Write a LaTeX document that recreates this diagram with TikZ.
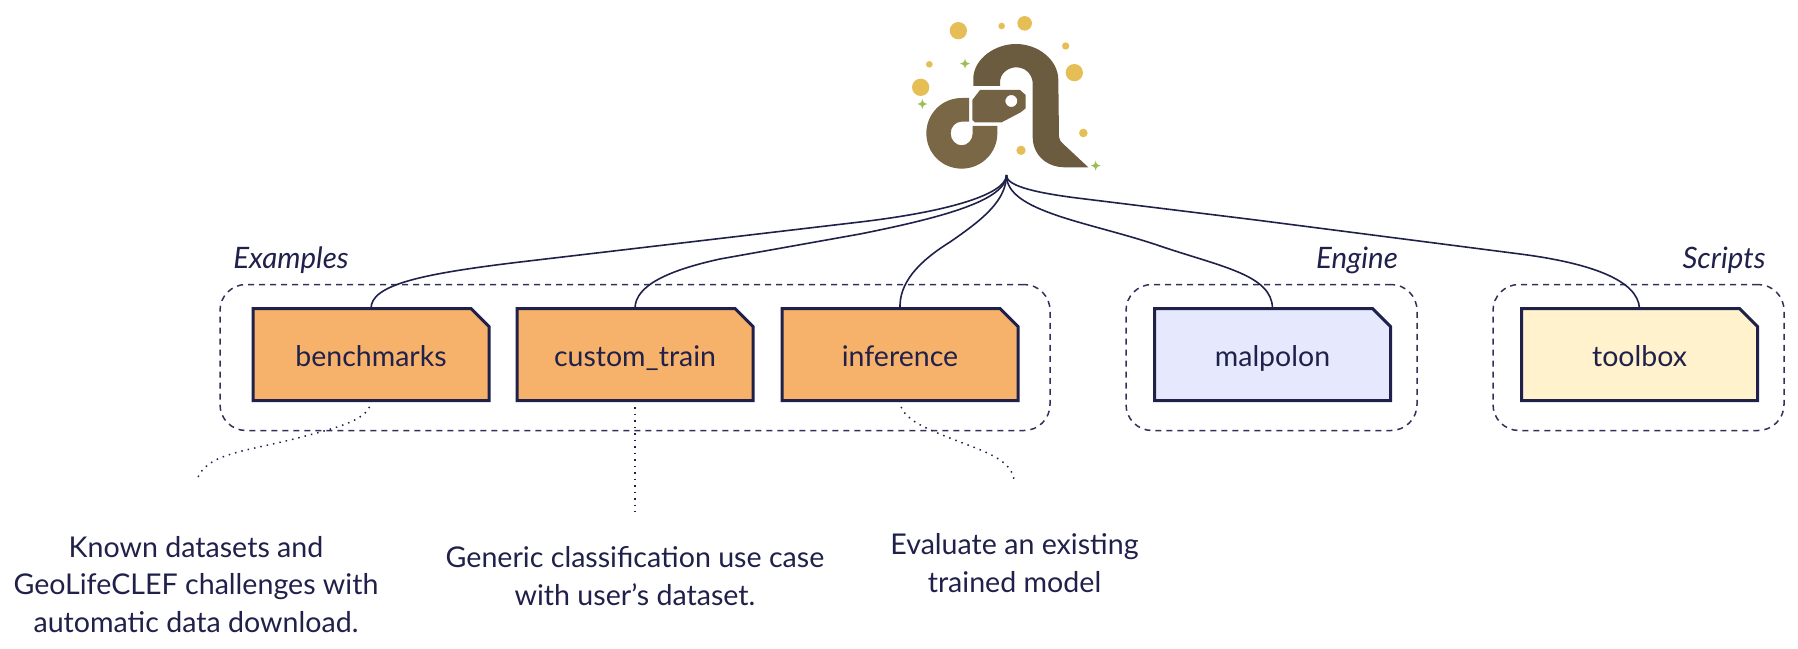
\documentclass[tikz,border=0pt]{standalone}
\usepackage{fontspec}
\setmainfont{Lato}
\usetikzlibrary{shapes.misc}
\definecolor{ink}{HTML}{20214A}
\definecolor{dashc}{HTML}{30315A}
\definecolor{orangebox}{HTML}{F6B26B}
\definecolor{lavbox}{HTML}{E6E8FD}
\definecolor{yelbox}{HTML}{FFF2CC}
\definecolor{gold}{HTML}{E5BF55}
\definecolor{sprk}{HTML}{9DBE52}
\definecolor{brownA}{HTML}{7A6746}
\definecolor{brownB}{HTML}{5F5239}
\tikzset{
  folder/.style={shape=chamfered rectangle,chamfered rectangle corners=north east,
    chamfered rectangle xsep=9pt,chamfered rectangle ysep=9pt,
    draw=ink,line width=3pt,minimum width=236pt,minimum height=92pt,inner sep=0pt,outer sep=0pt,
    text=ink,font=\fontsize{28.5}{32}\selectfont,text height=23pt,text depth=0pt},
  grp/.style={draw=dashc,line width=1.5pt,dash pattern=on 6pt off 5pt,rounded corners=26pt,
    minimum height=146pt,inner sep=0pt,outer sep=0pt},
  grplabel/.style={text=ink,font=\fontsize{29.5}{32}\selectfont\itshape,anchor=base,inner sep=0pt},
  note/.style={text=ink,font=\fontsize{28.6}{37.5}\selectfont,align=center,anchor=base,inner sep=0pt},
  link/.style={draw=ink,line width=1.6pt},
  dots/.style={draw=ink,line width=1.5pt,dash pattern=on 1.5pt off 5pt},
  blob/.style={fill=gold,draw=none,shape=circle,inner sep=0pt,outer sep=0pt},
  sparkle/.pic={\fill[sprk] (0,-15) .. controls (3,-4) .. (15,0) .. controls (3,4) .. (0,15) .. controls (-3,4) .. (-15,0) .. controls (-3,-4) .. cycle;}
}
\begin{document}
\begin{tikzpicture}[x=1pt,y=-1pt]
\useasboundingbox (0,0) rectangle (1798,648);
% groups
\node[grp,minimum width=830pt] (gex) at (635,357.5) {};
\node[grp,minimum width=291pt] (gen) at (1271.5,357.5) {};
\node[grp,minimum width=291pt] (gsc) at (1638.5,357.5) {};
% labels
\node[grplabel] (lex) at (291,268) {Examples};
\node[grplabel] (len) at (1357,268) {Engine};
\node[grplabel] (lsc) at (1724,268) {Scripts};
% folders
\node[folder,fill=orangebox] (bench) at (371,354.5) {benchmarks};
\node[folder,fill=orangebox] (cust) at (635,354.5) {custom\_train};
\node[folder,fill=orangebox] (infer) at (900,354.5) {inference};
\node[folder,fill=lavbox] (malp) at (1272.5,354.5) {malpolon};
\node[folder,fill=yelbox] (tool) at (1639.5,354.5) {toolbox};
% connector root
\coordinate (root) at (1006.5,175);
\draw[link] (bench.north) .. controls (371,285) and (420,274) .. (520,262) -- (860,222) .. controls (945,212) and (1006,195) .. (root);
\draw[link] (cust.north) .. controls (635,285) and (670,270) .. (720,259) -- (860,234) .. controls (945,217) and (1006,200) .. (root);
\draw[link] (infer.north) .. controls (899,283) and (918,262) .. (950,242) .. controls (985,218) and (1006,200) .. (root);
\draw[link] (malp.north) .. controls (1272,275) and (1222,267) .. (1160,246) .. controls (1090,222) and (1006,212) .. (root);
\draw[link] (tool.north) .. controls (1638,280) and (1590,263) .. (1520,254) -- (1256,220) -- (1077,198) .. controls (1030,192) and (1006,185) .. (root);
% dotted
\coordinate (dA) at (197,480);
\coordinate (dB) at (635,512);
\coordinate (dC) at (1014,480);
\draw[dots] (bench.south) .. controls (370,420) and (340,427) .. (290,440) .. controls (240,452) and (205,455) .. (dA);
\draw[dots] (cust.south) -- (dB);
\draw[dots] (infer.south) .. controls (900,420) and (930,430) .. (960,442) .. controls (990,453) and (1012,462) .. (dC);
% notes
\node[note] (nA) at (196,632) {Known datasets and\\GeoLifeCLEF challenges with\\automatic data download.};
\node[note] (nB) at (635,605) {Generic classification use case\\with user’s dataset.};
\node[note] (nC) at (1014.5,592) {Evaluate an existing\\trained model};
% logo
\begin{scope}[shift={(910,5)},x=0.3333pt,y=-0.3333pt]
\fill[brownA!45!brownB] (190,243) -- (190,215) .. controls (195,160) and (255,117) .. (318,117) .. controls (385,117) and (445,165) .. (445,225) -- (447,395) .. controls (447,403) and (452,410) .. (460,417) -- (535,487) -- (465,487) .. controls (410,487) and (368,450) .. (368,395) -- (368,232) .. controls (365,205) and (345,187) .. (318,187) .. controls (295,187) and (270,205) .. (270,232) -- (270,243) -- cycle;
\fill[brownA!75!brownB,even odd rule] (187,285) -- (210,255) -- (330,255) -- (347,270) -- (347,310) -- (332,322) -- (275,352) -- (195,352) -- (187,345) -- cycle (304,288) circle[radius=18];
\fill[brownA] (177,279) -- (155,279) .. controls (96,279) and (49,326) .. (49,385) .. controls (49,444) and (96,491) .. (155,491) .. controls (214,491) and (262,444) .. (262,385) -- (262,363) -- (188,363) -- (188,385) .. controls (188,405) and (173,421) .. (155,421) .. controls (137,421) and (122,405) .. (122,385) .. controls (122,365) and (137,350) .. (155,350) -- (177,350) -- cycle;
\node[blob,minimum size=17.3pt] (b1) at (145,77) {};
\node[blob,minimum size=6.6pt] (b2) at (275,63) {};
\node[blob,minimum size=14.6pt] (b3) at (344,55) {};
\node[blob,minimum size=7.3pt] (b4) at (467,123) {};
\node[blob,minimum size=17.3pt] (b5) at (493,203) {};
\node[blob,minimum size=6.6pt] (b6) at (58,178) {};
\node[blob,minimum size=17.3pt] (b7) at (32,247) {};
\node[blob,minimum size=8.6pt] (b8) at (520,384) {};
\node[blob,minimum size=9.3pt] (b9) at (333,436) {};
\path (165,176) pic {sparkle};
\path (37,297) pic {sparkle};
\path (557,482) pic {sparkle};
\end{scope}
\end{tikzpicture}
\end{document}
